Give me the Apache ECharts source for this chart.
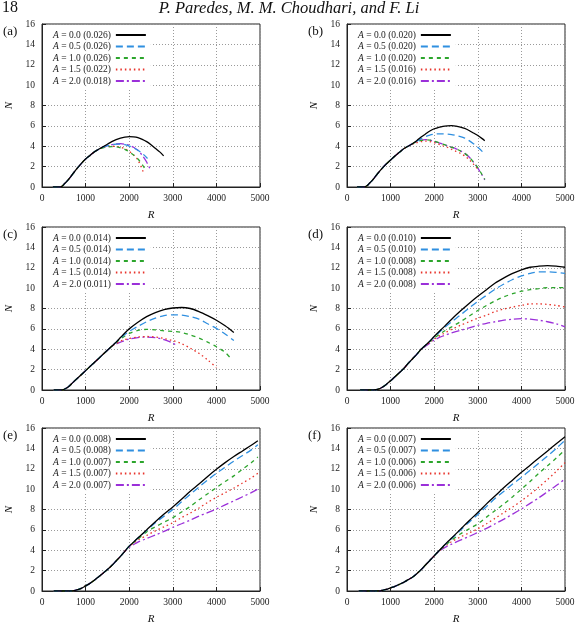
<!DOCTYPE html>
<html>
<head>
<meta charset="utf-8">
<script src="https://cdn.jsdelivr.net/npm/echarts@6/dist/echarts.min.js"></script>
<style>
  html, body { margin: 0; padding: 0; background: #fff; }
  #main { width: 578px; height: 627px; }
</style>
</head>
<body>
<div id="main"></div>
<script>
// amplitudes shown in every legend, and the value in brackets per panel
const amps = ['0.0', '0.5', '1.0', '1.5', '2.0'];
const freqA = ['0.026', '0.026', '0.026', '0.022', '0.018'];
const freqB = ['0.020', '0.020', '0.020', '0.016', '0.016'];
const freqC = ['0.014', '0.014', '0.014', '0.014', '0.011'];
const freqD = ['0.010', '0.010', '0.008', '0.008', '0.008'];
const freqE = ['0.008', '0.008', '0.007', '0.007', '0.007'];
const freqF = ['0.007', '0.007', '0.006', '0.006', '0.006'];
const panelLabels = ['(a)', '(b)', '(c)', '(d)', '(e)', '(f)'];
const xTicks = [0, 5000, 1000];   // min, max, step
const yTicks = [0, 16, 2];

// N(R) - common rising part of each panel, then one tail per amplitude
const riseA = [[250,0],[400,0],[450,0.05],[500,0.25],[600,0.7],[700,1.25],[800,1.8],[900,2.3],[1000,2.75],[1100,3.1],[1200,3.45],[1300,3.7]];
const a00 = [[1400,3.95],[1500,4.2],[1600,4.45],[1700,4.65],[1800,4.8],[1900,4.9],[2000,4.95],[2100,4.93],[2200,4.85],[2300,4.68],[2400,4.45],[2500,4.15],[2600,3.8],[2700,3.45],[2790,3.05]];
const a05 = [[1400,3.92],[1500,4.05],[1600,4.15],[1700,4.2],[1800,4.2],[1900,4.15],[2000,4.02],[2100,3.85],[2200,3.6],[2300,3.3],[2420,2.8]];
const a10 = [[1400,3.85],[1500,3.93],[1600,3.97],[1700,3.95],[1800,3.85],[1900,3.7],[2000,3.45],[2100,3.15],[2200,2.75],[2300,2.2],[2390,1.55]];
const a15 = [[1400,3.88],[1500,3.97],[1600,4.0],[1700,3.98],[1800,3.9],[1900,3.75],[2000,3.5],[2100,3.15],[2200,2.65],[2330,1.4]];
const a20 = [[1400,3.93],[1500,4.05],[1600,4.15],[1700,4.22],[1800,4.25],[1900,4.2],[2000,4.1],[2100,3.9],[2200,3.6],[2300,3.1],[2400,2.45],[2480,1.75]];

const riseB = [[230,0],[380,0],[450,0.1],[500,0.3],[600,0.75],[700,1.3],[800,1.8],[900,2.25],[1000,2.65],[1100,3.05],[1200,3.4],[1300,3.75],[1400,4.0]];
const b00 = [[1500,4.25],[1600,4.55],[1700,4.9],[1800,5.2],[1900,5.5],[2000,5.72],[2100,5.85],[2200,5.95],[2300,6.0],[2400,6.02],[2500,5.97],[2600,5.88],[2700,5.75],[2800,5.55],[2900,5.3],[3000,5.05],[3100,4.75],[3160,4.55]];
const b05 = [[1500,4.25],[1600,4.5],[1700,4.75],[1800,4.95],[1900,5.1],[2000,5.18],[2100,5.22],[2200,5.22],[2300,5.2],[2400,5.15],[2500,5.05],[2600,4.95],[2700,4.8],[2800,4.55],[2900,4.25],[3000,3.9],[3100,3.5],[3160,3.2]];
const b10 = [[1500,4.25],[1600,4.45],[1700,4.58],[1800,4.62],[1900,4.6],[2000,4.5],[2100,4.35],[2200,4.2],[2300,4.05],[2400,3.9],[2500,3.75],[2600,3.55],[2700,3.3],[2800,2.95],[2900,2.45],[3000,1.9],[3100,1.2],[3160,0.75]];
const b15 = [[1500,4.2],[1600,4.35],[1700,4.45],[1800,4.5],[1900,4.45],[2000,4.35],[2100,4.2],[2200,4.05],[2300,3.9],[2400,3.7],[2500,3.5],[2600,3.3],[2700,3.05],[2800,2.7],[2900,2.25],[3000,1.75]];
const b20 = [[1500,4.25],[1600,4.45],[1700,4.6],[1800,4.65],[1900,4.6],[2000,4.45],[2100,4.35],[2200,4.2],[2300,4.05],[2400,3.9],[2500,3.75],[2600,3.55],[2700,3.3],[2800,2.95],[2900,2.45],[3000,1.85],[3100,1.15],[3160,0.7]];

const riseC = [[270,0],[450,0],[500,0.05],[600,0.3],[700,0.7],[800,1.1],[900,1.5],[1000,1.9],[1100,2.3],[1200,2.7],[1300,3.1],[1400,3.5],[1500,3.9],[1600,4.3]];
const c00 = [[1700,4.7],[1800,5.15],[1900,5.6],[2000,6.0],[2200,6.65],[2400,7.2],[2600,7.6],[2800,7.9],[3000,8.05],[3200,8.1],[3400,8.0],[3600,7.7],[3800,7.3],[4000,6.85],[4200,6.3],[4400,5.65]];
const c05 = [[1700,4.7],[1800,5.1],[1900,5.45],[2000,5.75],[2200,6.25],[2400,6.7],[2600,7.05],[2800,7.3],[3000,7.38],[3200,7.35],[3400,7.2],[3600,6.95],[3800,6.5],[4000,6.05],[4200,5.5],[4400,4.85]];
const c10 = [[1700,4.65],[1800,5.0],[1900,5.3],[2000,5.55],[2200,5.85],[2400,5.95],[2600,5.9],[2800,5.8],[3000,5.75],[3200,5.65],[3400,5.4],[3600,5.1],[3800,4.7],[4000,4.25],[4200,3.7],[4340,3.05]];
const c15 = [[1700,4.55],[1800,4.8],[1900,4.95],[2000,5.05],[2200,5.2],[2400,5.25],[2600,5.2],[2800,5.05],[3000,4.85],[3200,4.55],[3400,4.1],[3600,3.6],[3800,2.95],[4000,2.2]];
const c20 = [[1700,4.5],[1800,4.7],[1900,4.85],[2000,5.0],[2200,5.15],[2400,5.2],[2600,5.15],[2800,4.95],[3000,4.6],[3080,4.4]];

const riseD = [[300,0],[600,0],[700,0.05],[800,0.25],[900,0.55],[1000,0.9],[1100,1.3],[1200,1.7],[1300,2.1],[1400,2.6],[1500,3.05],[1600,3.5],[1700,4.0]];
const d00 = [[1800,4.4],[1900,4.8],[2000,5.25],[2200,6.1],[2400,6.95],[2600,7.75],[2800,8.5],[3000,9.2],[3200,9.85],[3400,10.5],[3600,11.0],[3800,11.45],[4000,11.8],[4200,12.05],[4400,12.15],[4600,12.2],[4800,12.15],[5000,12.05]];
const d05 = [[1800,4.4],[1900,4.8],[2000,5.2],[2200,6.0],[2400,6.7],[2600,7.35],[2800,8.05],[3000,8.7],[3200,9.3],[3400,9.9],[3600,10.4],[3800,10.85],[4000,11.2],[4200,11.45],[4400,11.6],[4600,11.6],[4800,11.55],[5000,11.45]];
const d10 = [[1800,4.4],[1900,4.75],[2000,5.1],[2200,5.7],[2400,6.2],[2600,6.7],[2800,7.25],[3000,7.8],[3200,8.3],[3400,8.75],[3600,9.15],[3800,9.45],[4000,9.7],[4200,9.85],[4400,9.95],[4600,10.05],[4800,10.05],[5000,10.05]];
const d15 = [[1800,4.35],[1900,4.7],[2000,5.0],[2200,5.5],[2400,5.95],[2600,6.35],[2800,6.7],[3000,7.05],[3200,7.35],[3400,7.7],[3600,7.95],[3800,8.15],[4000,8.3],[4200,8.45],[4400,8.45],[4600,8.4],[4800,8.3],[5000,8.15]];
const d20 = [[1800,4.3],[1900,4.6],[2000,4.9],[2200,5.3],[2400,5.6],[2600,5.85],[2800,6.1],[3000,6.35],[3200,6.55],[3400,6.7],[3600,6.85],[3800,6.95],[4000,7.0],[4200,6.95],[4400,6.85],[4600,6.7],[4800,6.5],[5000,6.2]];

const riseE = [[270,0],[700,0],[800,0.1],[900,0.25],[1000,0.5],[1100,0.75],[1200,1.05],[1300,1.4],[1400,1.75],[1500,2.1],[1600,2.5],[1700,2.95],[1800,3.4],[1900,3.9]];
const e00 = [[2000,4.4],[2100,4.8],[2200,5.2],[2400,6.0],[2600,6.8],[2800,7.55],[3000,8.25],[3200,9.0],[3400,9.8],[3600,10.5],[3800,11.25],[4000,11.95],[4200,12.6],[4400,13.2],[4600,13.75],[4800,14.3],[4950,14.75]];
const e05 = [[2000,4.4],[2100,4.8],[2200,5.2],[2400,5.95],[2600,6.7],[2800,7.35],[3000,8.0],[3200,8.75],[3400,9.5],[3600,10.2],[3800,10.9],[4000,11.55],[4200,12.15],[4400,12.75],[4600,13.3],[4800,13.85],[4950,14.35]];
const e10 = [[2000,4.4],[2100,4.75],[2200,5.1],[2400,5.8],[2600,6.3],[2800,6.75],[3000,7.2],[3200,7.75],[3400,8.3],[3600,8.95],[3800,9.55],[4000,10.15],[4200,10.75],[4400,11.3],[4600,11.95],[4800,12.6],[4950,13.15]];
const e15 = [[2000,4.35],[2100,4.7],[2200,5.0],[2400,5.45],[2600,5.9],[2800,6.3],[3000,6.7],[3200,7.2],[3400,7.65],[3600,8.15],[3800,8.7],[4000,9.2],[4200,9.65],[4400,10.1],[4600,10.6],[4800,11.1],[4950,11.55]];
const e20 = [[2000,4.3],[2100,4.55],[2200,4.8],[2400,5.15],[2600,5.5],[2800,5.85],[3000,6.25],[3200,6.6],[3400,6.95],[3600,7.35],[3800,7.7],[4000,8.05],[4200,8.45],[4400,8.85],[4600,9.25],[4800,9.65],[4950,10.0]];

const riseF = [[270,0],[750,0],[800,0.05],[900,0.15],[1000,0.3],[1100,0.45],[1200,0.65],[1300,0.85],[1400,1.1],[1500,1.35],[1600,1.7],[1700,2.1],[1800,2.55],[1900,3.0],[2000,3.45]];
const f00 = [[2100,3.9],[2200,4.35],[2300,4.8],[2400,5.2],[2600,6.05],[2800,6.9],[3000,7.7],[3200,8.55],[3400,9.35],[3600,10.15],[3800,10.9],[4000,11.65],[4200,12.35],[4400,13.05],[4600,13.75],[4800,14.45],[5000,15.15]];
const f05 = [[2100,3.9],[2200,4.35],[2300,4.75],[2400,5.15],[2600,5.95],[2800,6.75],[3000,7.5],[3200,8.3],[3400,9.1],[3600,9.8],[3800,10.5],[4000,11.15],[4200,11.85],[4400,12.55],[4600,13.25],[4800,14.0],[5000,14.8]];
const f10 = [[2100,3.9],[2200,4.3],[2300,4.65],[2400,5.0],[2600,5.6],[2800,6.1],[3000,6.6],[3200,7.25],[3400,7.9],[3600,8.55],[3800,9.25],[4000,10.0],[4200,10.75],[4400,11.55],[4600,12.3],[4800,13.05],[5000,13.85]];
const f15 = [[2100,3.9],[2200,4.25],[2300,4.55],[2400,4.85],[2600,5.3],[2800,5.7],[3000,6.1],[3200,6.6],[3400,7.15],[3600,7.7],[3800,8.25],[4000,8.85],[4200,9.5],[4400,10.2],[4600,10.95],[4800,11.75],[5000,12.6]];
const f20 = [[2100,3.85],[2200,4.15],[2300,4.4],[2400,4.6],[2600,5.0],[2800,5.35],[3000,5.75],[3200,6.15],[3400,6.6],[3600,7.05],[3800,7.55],[4000,8.05],[4200,8.6],[4400,9.15],[4600,9.75],[4800,10.35],[5000,11.0]];

const panels = [
  {rise: riseA, tails: [a00, a05, a10, a15, a20], freq: freqA},
  {rise: riseB, tails: [b00, b05, b10, b15, b20], freq: freqB},
  {rise: riseC, tails: [c00, c05, c10, c15, c20], freq: freqC},
  {rise: riseD, tails: [d00, d05, d10, d15, d20], freq: freqD},
  {rise: riseE, tails: [e00, e05, e10, e15, e20], freq: freqE},
  {rise: riseF, tails: [f00, f05, f10, f15, f20], freq: freqF},
];

// layout + styles
const gridPos = [[42, 24], [347, 24], [42, 227], [347, 227], [42, 428], [347, 428]];
const gridW = 218, gridH = 163;
const serif = 'Liberation Serif';
const lineStyles = [
  {color: '#000000', type: 'solid'},
  {color: '#2f8fe0', type: [7, 4]},
  {color: '#2ca52c', type: [4, 4]},
  {color: '#e8332b', type: [1.5, 3]},
  {color: '#9b30d9', type: [8, 3, 2, 3]},
];

const grid = [], xAxis = [], yAxis = [], legend = [], series = [];
const title = [
  {text: '18', left: 2, top: 0, padding: 0,
   textStyle: {fontFamily: serif, fontSize: 16, fontWeight: 'normal', color: '#111'}},
  {text: 'P. Paredes, M. M. Choudhari, and F. Li', left: 'center', top: 0, padding: 0,
   textStyle: {fontFamily: serif, fontSize: 16.5, fontStyle: 'italic', fontWeight: 'normal', color: '#111'}},
];

panels.forEach((p, k) => {
  const [gl, gt] = gridPos[k];
  grid.push({left: gl, top: gt, width: gridW, height: gridH, show: true,
             borderColor: '#222', borderWidth: 1, backgroundColor: 'transparent'});
  xAxis.push({
    type: 'value', gridIndex: k, min: xTicks[0], max: xTicks[1], interval: xTicks[2],
    name: 'R', nameLocation: 'middle', nameGap: 23,
    nameTextStyle: {fontFamily: serif, fontSize: 11, fontStyle: 'italic', color: '#111'},
    axisLine: {show: true, lineStyle: {color: '#222', width: 1}},
    axisTick: {show: true, inside: true, length: 4, lineStyle: {color: '#222'}},
    axisLabel: {fontFamily: serif, fontSize: 9.5, color: '#222', margin: 6, formatter: v => String(v)},
    splitLine: {show: true, lineStyle: {color: '#9a9a9a', type: [1, 2], width: 1}},
  });
  yAxis.push({
    type: 'value', gridIndex: k, min: yTicks[0], max: yTicks[1], interval: yTicks[2],
    name: 'N', nameLocation: 'middle', nameGap: 27, nameRotate: 90,
    nameTextStyle: {fontFamily: serif, fontSize: 11, fontStyle: 'italic', color: '#111'},
    axisLine: {show: true, lineStyle: {color: '#222', width: 1}},
    axisTick: {show: true, inside: true, length: 4, lineStyle: {color: '#222'}},
    axisLabel: {fontFamily: serif, fontSize: 9.5, color: '#222', margin: 7},
    splitLine: {show: true, lineStyle: {color: '#9a9a9a', type: [1, 2], width: 1}},
  });
  title.push({text: panelLabels[k], left: gl - 39, top: gt + 1, padding: 0,
              textStyle: {fontFamily: serif, fontSize: 13, fontWeight: 'normal', color: '#111'}});

  const names = amps.map((a, i) => 'A = ' + a + ' (' + p.freq[i] + ')');
  legend.push({
    data: names, left: gl + 1, top: gt + 1, orient: 'vertical', align: 'right',
    itemWidth: 30, itemHeight: 8, itemGap: 1.5, padding: [5, 4, 4, 10],
    backgroundColor: '#fff', selectedMode: false,
    itemStyle: {opacity: 0},
    formatter: n => '{i|A}' + n.slice(1),
    textStyle: {fontFamily: serif, fontSize: 9.5, color: '#222', lineHeight: 9,
                rich: {i: {fontFamily: serif, fontSize: 9.5, fontStyle: 'italic', color: '#222', lineHeight: 9}}},
  });

  p.tails.forEach((tail, i) => {
    series.push({
      type: 'line', name: names[i], xAxisIndex: k, yAxisIndex: k,
      data: p.rise.concat(tail), symbol: 'none', smooth: 0.3,
      lineStyle: {color: lineStyles[i].color, type: lineStyles[i].type, width: 1.3},
      itemStyle: {color: lineStyles[i].color, opacity: 0},
      z: 10 - i,
    });
  });
});

const myChart = echarts.init(document.getElementById('main'), null, {renderer: 'canvas'});
myChart.setOption({animation: false, title, grid, xAxis, yAxis, legend, series});
</script>
</body>
</html>
